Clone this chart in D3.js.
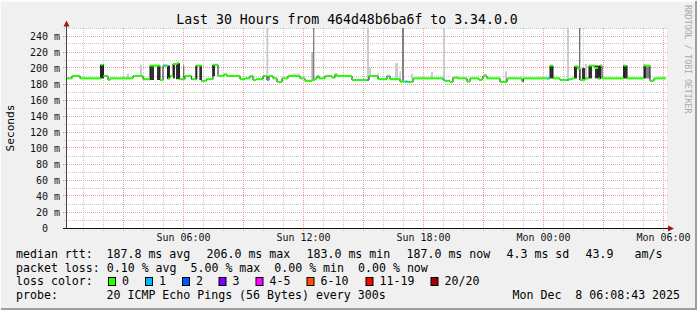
<!DOCTYPE html>
<html>
<head>
<meta charset="utf-8">
<script src="https://cdn.jsdelivr.net/npm/d3@7"></script>
<style>
  body { margin: 0; background: #f0f0f0; }
  text { font-family: "DejaVu Sans Mono", monospace; white-space: pre; }
</style>
</head>
<body>
<svg id="chart" width="697" height="310"></svg>
<script>
// graph window: 30 hours ending at the probe time
const endTime = new Date(2025, 11, 8, 6, 8, 43)
const windowMin = 30 * 60

// median rtt, step series: minutes since window start, value in ms, lost pings
const medMin = [0, 18, 42, 105, 112, 126, 132, 201, 231, 252, 282, 291, 294, 300, 306, 312, 321, 333, 339, 357,
  376, 391, 406, 421, 441, 456, 474, 483, 522, 537, 552, 561, 570, 591, 603, 609, 621, 633, 648, 666,
  702, 717, 738, 747, 753, 759, 777, 798, 807, 813, 858, 903, 909, 936, 963, 972, 1002, 1017, 1026, 1041,
  1131, 1137, 1152, 1161, 1176, 1203, 1212, 1239, 1248, 1251, 1263, 1302, 1323, 1368, 1372, 1443, 1449, 1452, 1461, 1482,
  1503, 1509, 1518, 1527, 1536, 1542, 1557, 1569, 1587, 1596, 1602, 1608, 1674, 1681, 1734, 1752, 1764]
const medRtt = [187, 190, 187, 204, 190, 185, 187, 190, 186, 203, 185, 203, 203, 203, 187, 190, 205, 206, 186, 190,
  186, 203, 184, 186, 204, 190, 192, 190, 186, 187, 190, 185, 186, 190, 185, 190, 187, 182.5, 187, 190,
  187, 184, 185, 187, 190, 187, 190, 188, 192, 190, 185, 185, 190, 186, 190, 186, 183, 183, 182.5, 187,
  185, 184, 182.5, 188, 187, 183, 187, 185, 187, 190, 187, 182.5, 187, 183, 187, 187, 187, 203, 187, 185,
  185, 186, 187, 202, 199, 185, 187, 203, 200, 187, 203, 187, 203, 187, 203, 184, 187]
const medLoss = [0, 0, 0, 0, 0, 0, 0, 0, 0, 0, 0, 0, 1, 0, 0, 0, 0, 0, 0, 0,
  0, 0, 0, 0, 0, 0, 0, 0, 0, 0, 0, 0, 0, 0, 1, 0, 0, 0, 0, 0,
  0, 0, 0, 0, 0, 0, 0, 0, 0, 0, 0, 1, 0, 0, 0, 0, 0, 1, 0, 0,
  1, 0, 0, 0, 0, 0, 0, 0, 0, 0, 0, 0, 0, 0, 0, 1, 0, 0, 0, 0,
  1, 0, 0, 0, 0, 0, 0, 0, 0, 0, 0, 0, 0, 0, 0, 0, 0]

// smoke: [from min, to min, low ms, high ms, density 0..1]
const smoke = [
  [102, 114, 187, 204, 0.8], [183, 189, 187, 193, 0.2], [222, 228, 190, 204, 0.2],
  [252, 264, 185, 203, 0.8], [273, 282, 185, 203, 0.8], [303, 312, 186, 203, 0.8],
  [321, 327, 187, 205, 0.8], [330, 342, 186, 206, 0.8], [351, 355, 186, 203, 0.55],
  [388, 394, 186, 203, 0.8], [400, 406, 185, 203, 0.8], [439, 447, 190, 204, 0.8],
  [601, 607, 185, 250, 0.2], [678, 702, 190, 193, 0.15], [736, 741, 185, 220, 0.3],
  [741, 745, 185, 250, 0.5], [903, 909, 185, 250, 0.2], [909, 915, 190, 200, 0.2],
  [933, 939, 190, 193, 0.2], [987, 996, 187, 206, 0.2], [1000, 1005, 185, 196, 0.2],
  [1008, 1014, 183, 250, 0.5], [1035, 1041, 187, 193, 0.2], [1095, 1101, 187, 195, 0.2],
  [1131, 1137, 184, 250, 0.2], [1251, 1263, 190, 193, 0.2], [1317, 1323, 182, 196, 0.2],
  [1452, 1461, 187, 203, 0.8], [1503, 1509, 185, 250, 0.2], [1524, 1533, 187, 202, 0.8],
  [1539, 1543, 185, 250, 0.55], [1548, 1557, 185, 200, 0.8], [1557, 1563, 187, 205, 0.2],
  [1569, 1578, 187, 203, 0.8], [1587, 1596, 187, 203, 0.8], [1596, 1605, 186, 203, 0.8],
  [1671, 1680, 187, 203, 0.8], [1680, 1686, 187, 203, 0.5], [1734, 1740, 187, 204, 0.8],
  [1740, 1752, 187, 202, 0.5]
]

const yTicks = [0, 20, 40, 60, 80, 100, 120, 140, 160, 180, 200, 220, 240]
const xLabels = ['Sun 06:00', 'Sun 12:00', 'Sun 18:00', 'Mon 00:00', 'Mon 06:00']
const lossLabels = ['0', '1', '2', '3', '4-5', '6-10', '11-19', '20/20']
const lossColors = ['#26ff00', '#00b8ff', '#0059ff', '#7e00ff', '#ff00ff', '#ff5500', '#ff0000', '#a10000']
const lossBreaks = [1, 2, 3, 4, 6, 11, 20]

const titleText = 'Last 30 Hours from 464d48b6ba6f to 3.34.0.0'
const statsRtt = ['187.8 ms avg', '206.0 ms max', '183.0 ms min', '187.0 ms now', '4.3 ms sd', '43.9', 'am/s']
const statsLoss = '0.10 % avg  5.00 % max  0.00 % min  0.00 % now'
const probeText = '20 ICMP Echo Pings (56 Bytes) every 300s'
const stampText = 'Mon Dec  8 06:08:43 2025'

const svg = d3.select('#chart')
const W = 697
const H = 310
const startTime = new Date(endTime.getTime() - windowMin * 60000)

const x = d3.scaleTime().domain([startTime, endTime]).range([66, 666])
const y = d3.scaleLinear().domain([0, 250]).range([228, 28])
const tx = (m) => x(new Date(startTime.getTime() + m * 60000))
const px = (v) => Math.floor(v) + 0.5
const lossColor = d3.scaleThreshold().domain(lossBreaks).range(lossColors)
const shade = d3.scaleLinear().domain([0, 1]).range(['#ffffff', '#000000'])

// background + 3d border
svg.append('rect').attr('width', W).attr('height', H).attr('fill', '#f0f0f0')
svg.append('path').attr('d', `M0,${H - 1}V1H${W - 1}`).attr('fill', 'none').attr('stroke', '#fbfbfb').attr('stroke-width', 2)
svg.append('path').attr('d', `M1,${H - 1}H${W - 1}V1`).attr('fill', 'none').attr('stroke', '#9e9e9e').attr('stroke-width', 2)

// canvas
svg.append('rect').attr('x', 67).attr('y', 28).attr('width', 600).attr('height', 200).attr('fill', '#ffffff')

// horizontal grid
const gGrid = svg.append('g')
const yMinor = d3.range(10, 251, 20)
gGrid.selectAll('.hmin').data(yMinor).enter().append('line')
  .attr('class', 'hmin')
  .attr('x1', 64).attr('x2', 668)
  .attr('y1', (d) => px(y(d))).attr('y2', (d) => px(y(d)))
  .attr('stroke', '#c8c8c8').attr('stroke-dasharray', '1,1')
gGrid.selectAll('.hmaj').data(yTicks.filter((d) => d > 0)).enter().append('line')
  .attr('class', 'hmaj')
  .attr('x1', 63).attr('x2', 668)
  .attr('y1', (d) => px(y(d))).attr('y2', (d) => px(y(d)))
  .attr('stroke', '#e89a9a').attr('stroke-dasharray', '1,1')

// vertical grid
const hours = d3.timeHour.range(startTime, endTime)
gGrid.selectAll('.vgrid').data(hours).enter().append('line')
  .attr('class', 'vgrid')
  .attr('x1', (d) => px(x(d))).attr('x2', (d) => px(x(d)))
  .attr('y1', 28).attr('y2', 231)
  .attr('stroke', (d) => d.getHours() % 3 === 0 ? '#e89a9a' : '#c8c8c8')
  .attr('stroke-dasharray', '1,1')

// smoke
svg.append('g').selectAll('rect').data(smoke).enter().append('rect')
  .attr('x', (d) => tx(d[0]))
  .attr('width', (d) => tx(d[1]) - tx(d[0]))
  .attr('y', (d) => y(Math.min(d[3], 250)))
  .attr('height', (d) => y(d[2]) - y(Math.min(d[3], 250)))
  .attr('fill', (d) => shade(d[4]))

// median line
const steps = medMin.map((m, i) => ({
  t0: m,
  t1: i < medMin.length - 1 ? medMin[i + 1] : windowMin,
  rtt: medRtt[i],
  loss: medLoss[i]
}))
const stepPts = steps.map((d) => [tx(d.t0), y(d.rtt)])
stepPts.push([tx(windowMin), y(medRtt[medRtt.length - 1])])
svg.append('path')
  .attr('d', d3.line().curve(d3.curveStepAfter)(stepPts))
  .attr('fill', 'none').attr('stroke', '#1a1a1a').attr('stroke-width', 1)
svg.append('g').selectAll('line').data(steps).enter().append('line')
  .attr('x1', (d) => tx(d.t0)).attr('x2', (d) => tx(d.t1))
  .attr('y1', (d) => y(d.rtt)).attr('y2', (d) => y(d.rtt))
  .attr('stroke', (d) => lossColor(d.loss))
  .attr('stroke-width', 2)

// axes
svg.append('line').attr('x1', 66.5).attr('x2', 66.5).attr('y1', 229).attr('y2', 24)
  .attr('stroke', '#444')
svg.append('line').attr('x1', 63).attr('x2', 670).attr('y1', 228.5).attr('y2', 228.5)
  .attr('stroke', '#111')
svg.append('path').attr('d', 'M63.5,26.5L69.5,26.5L66.5,20.5Z').attr('fill', '#a01818')
svg.append('path').attr('d', 'M668,225.5L668,231.5L674,228.5Z').attr('fill', '#a01818')

// y labels
svg.append('g').selectAll('text').data(yTicks).enter().append('text')
  .attr('x', (d) => d === 0 ? 48 : 60)
  .attr('y', (d) => y(d) + 3.5)
  .attr('text-anchor', 'end')
  .attr('font-size', 10)
  .attr('fill', '#111')
  .text((d) => d === 0 ? '0' : d + ' m')

// title, y title, watermark
svg.append('text').attr('x', 347).attr('y', 24).attr('text-anchor', 'middle')
  .attr('font-size', 13.2).attr('fill', '#000').text(titleText)
svg.append('text').attr('transform', 'translate(13.5,128) rotate(-90)')
  .attr('text-anchor', 'middle').attr('font-size', 11.2).attr('fill', '#000').text('Seconds')
svg.append('text').attr('transform', 'translate(684.5,5) rotate(90)')
  .attr('font-size', 8.2).attr('fill', '#a8a8a8').text('RRDTOOL / TOBI OETIKER')

// legend
const lg = svg.append('g').attr('font-size', 11.6).attr('fill', '#000')
lg.append('text').attr('x', 16).attr('y', 258).text('median rtt:')
const rttX = [106.5, 206.5, 306.5, 406.5, 506.5, 585.5, 634.5]
lg.selectAll('.rtt').data(statsRtt).enter().append('text')
  .attr('class', 'rtt')
  .attr('x', (d, i) => rttX[i]).attr('y', 258)
  .text((d) => d)
lg.append('text').attr('x', 16).attr('y', 271.5).text('packet loss: ' + statsLoss)
lg.append('text').attr('x', 16).attr('y', 285).text('loss color:')
const swX = [108.5, 145.5, 182.5, 219, 256, 307, 366, 431]
const sw = lg.selectAll('.sw').data(lossLabels).enter().append('g').attr('class', 'sw')
sw.append('rect')
  .attr('x', (d, i) => swX[i]).attr('y', 277.5)
  .attr('width', 7).attr('height', 8)
  .attr('fill', (d, i) => lossColors[i])
  .attr('stroke', '#000').attr('stroke-width', 1)
sw.append('text')
  .attr('x', (d, i) => swX[i] + 13.5).attr('y', 285)
  .text((d) => d)
lg.append('text').attr('x', 16).attr('y', 298.5).text('probe:')
lg.append('text').attr('x', 106.5).attr('y', 298.5).text(probeText)
lg.append('text').attr('x', 512.5).attr('y', 298.5).text(stampText)

// x labels every 6 hours, drawn last so nothing sits over them
const labelHours = hours.filter((d) => d.getHours() % 6 === 0)
const gx = svg.append('g').attr('class', 'xlabels')
labelHours.forEach((d, i) => {
  gx.append('text')
    .attr('x', px(x(d)))
    .attr('y', 241)
    .attr('text-anchor', 'middle')
    .attr('font-size', 10)
    .attr('fill', '#111')
    .text(xLabels[i])
})
</script>
</body>
</html>
